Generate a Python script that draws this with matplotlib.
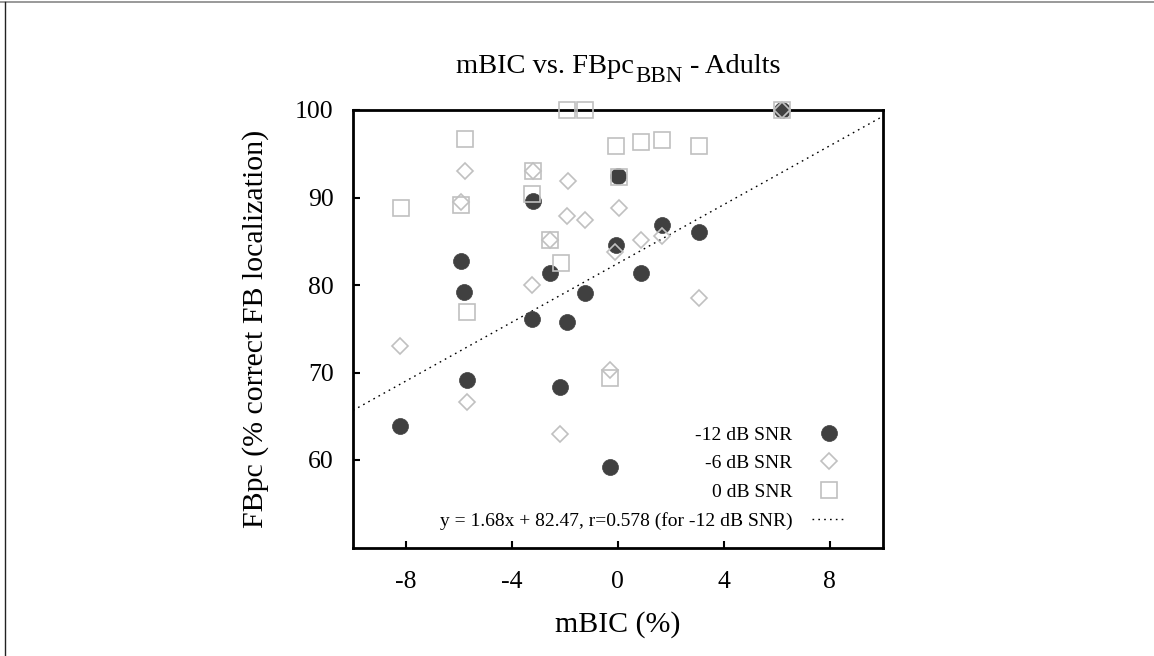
import matplotlib
matplotlib.use("Agg")
import matplotlib.pyplot as plt
from matplotlib.lines import Line2D
import numpy as np

plt.rcParams['font.family'] = ['Liberation Serif', 'DejaVu Serif']
plt.rcParams['axes.unicode_minus'] = False

# ---- data ----
x_m12 = [-8.22, -5.94, -5.80, -5.70, -3.20, -3.24, -2.58, -2.17, -1.91, -1.23,
         -0.31, -0.06, 0.00, 0.88, 1.68, 3.07, 6.18]
y_m12 = [63.9, 82.7, 79.2, 69.2, 89.6, 76.1, 81.4, 68.35, 75.8, 79.1,
         59.2, 84.6, 92.5, 81.4, 86.9, 86.1, 100.0]

x_m6 = [-8.22, -5.79, -5.93, -5.70, -3.20, -3.23, -2.57, -2.17, -1.89, -1.91,
        -1.23, -0.31, 0.06, -0.09, 0.88, 1.68, 3.07, 6.18]
y_m6 = [73.0, 93.0, 89.5, 66.6, 93.0, 80.0, 85.1, 63.0, 91.9, 87.9,
        87.4, 70.3, 88.8, 83.8, 85.1, 85.65, 78.5, 100.0]

x_0 = [-8.20, -5.76, -5.93, -5.68, -3.20, -3.23, -2.57, -2.16, -1.91, -1.25,
       -0.31, -0.06, 0.06, 0.88, 1.68, 3.07, 6.18]
y_0 = [88.8, 96.7, 89.2, 76.9, 93.0, 90.4, 85.1, 82.5, 100.0, 100.0,
       69.4, 95.9, 92.3, 96.3, 96.6, 95.9, 100.0]

fit_slope = 1.68
fit_intercept = 82.47
fit_r = 0.578

series_labels = ["-12 dB SNR", "-6 dB SNR", "0 dB SNR"]
fit_label = "y = 1.68x + 82.47, r=0.578 (for -12 dB SNR)"
title_parts = ["mBIC vs. FBpc", "BBN", "- Adults"]

x_ticks = [-8, -4, 0, 4, 8]
y_ticks = [60, 70, 80, 90, 100]

# ---- figure ----
W, H = 1154, 656
fig = plt.figure(figsize=(W / 100, H / 100), dpi=100)
ax = fig.add_axes([353 / W, 1 - 547.5 / H, (882.7 - 353) / W, (547.5 - 110) / H])

dark = '#404040'
light = '#c0c0c0'

ax.plot(x_m12, y_m12, linestyle='none', marker='o', markersize=11.5,
        markerfacecolor=dark, markeredgecolor=dark, markeredgewidth=0.5,
        clip_on=False, zorder=3, label=series_labels[0])
ax.plot(x_m6, y_m6, linestyle='none', marker='D', markersize=8.6,
        markerfacecolor='none', markeredgecolor=light, markeredgewidth=1.2,
        clip_on=False, zorder=4, label=series_labels[1])
ax.plot(x_0, y_0, linestyle='none', marker='s', markersize=11.5,
        markerfacecolor='none', markeredgecolor=light, markeredgewidth=1.2,
        clip_on=False, zorder=5, label=series_labels[2])

xl = np.array([-10, 10])
ax.plot(xl, fit_slope * xl + fit_intercept, color='black', linewidth=1.0,
        linestyle=(0, (1.2, 3.0)), zorder=2, label=fit_label)

ax.set_xlim(-10, 10)
ax.set_ylim(50, 100)
ax.set_xticks(x_ticks)
ax.set_yticks(y_ticks)
ax.set_xticklabels([str(t) for t in x_ticks])
ax.set_yticklabels([str(t) for t in y_ticks])

for s in ax.spines.values():
    s.set_linewidth(2.0)
ax.tick_params(axis='both', direction='in', length=5, width=1.5,
               labelsize=18.5, top=False, right=False)
ax.tick_params(axis='x', pad=17)
ax.tick_params(axis='y', pad=14)

ax.set_xlabel('mBIC (%)', fontsize=21.5, labelpad=13)
ax.set_ylabel('FBpc (% correct FB localization)', fontsize=21.5, labelpad=19)

leg = ax.legend(loc='lower right', bbox_to_anchor=(0.932, 0.040),
                markerfirst=False, frameon=False, fontsize=14,
                handlelength=1.8, handletextpad=1.0, labelspacing=0.57,
                borderpad=0, borderaxespad=0)

# ---- title with a large subscript, laid out piecewise ----
t1 = fig.text(0, 0, title_parts[0], fontsize=20.5, va='baseline', ha='left')
t2 = fig.text(0, 0, title_parts[1], fontsize=16.5, va='baseline', ha='left')
t3 = fig.text(0, 0, title_parts[2], fontsize=20.5, va='baseline', ha='left')
renderer = fig.canvas.get_renderer()
w1 = t1.get_window_extent(renderer).width
w2 = t2.get_window_extent(renderer).width
w3 = t3.get_window_extent(renderer).width
gap = 0.28 * 20.5 * 100 / 72
total = w1 + w2 + gap + w3
cx = (353 + 882.7) / 2
x0 = cx - total / 2
base_main = H - 72.7
base_sub = H - 81.5
t1.set_position((x0 / W, base_main / H))
t2.set_position(((x0 + w1 + 1) / W, base_sub / H))
t3.set_position(((x0 + w1 + 1 + w2 + gap) / W, base_main / H))

# image border lines (top gray, left dark)
fig.add_artist(Line2D([0, 1], [1 - 1.5 / H, 1 - 1.5 / H], transform=fig.transFigure,
                      color='#888888', linewidth=1.2))
fig.add_artist(Line2D([5 / W, 5 / W], [0, 1 - 1.5 / H], transform=fig.transFigure,
                      color='#222222', linewidth=1.0))

fig.savefig('out.png', dpi=100)
